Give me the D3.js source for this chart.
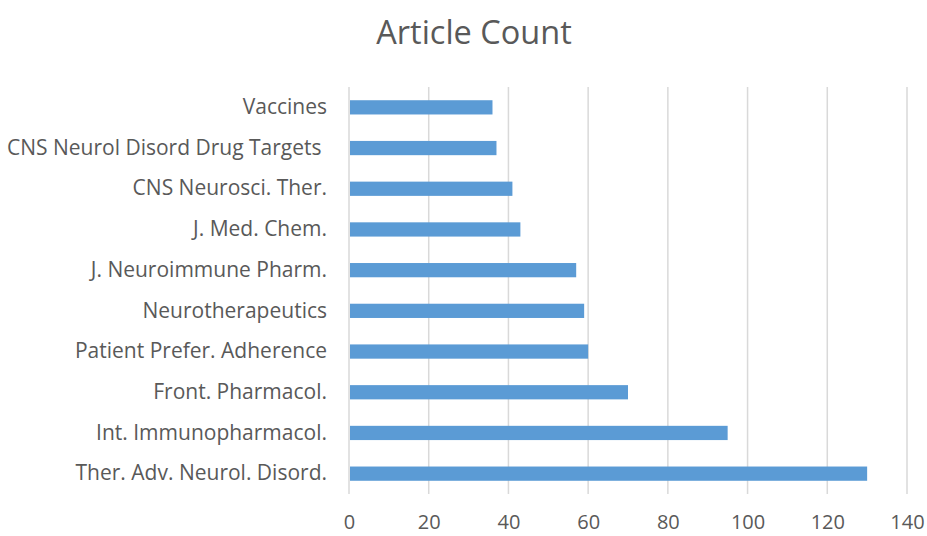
<!DOCTYPE html>
<html>
<head>
<meta charset="utf-8">
<script src="https://cdn.jsdelivr.net/npm/d3@7"></script>
<style>
  body { margin: 0; background: #fff; }
  text { font-family: "Open Sans", sans-serif; fill: #595959; }
</style>
</head>
<body>
<div id="chart"></div>
<script>
// Data (top to bottom as drawn)
const journals = [
    'Vaccines',
    'CNS Neurol Disord Drug Targets ',
    'CNS Neurosci. Ther.',
    'J. Med. Chem.',
    'J. Neuroimmune Pharm.',
    'Neurotherapeutics',
    'Patient Prefer. Adherence',
    'Front. Pharmacol.',
    'Int. Immunopharmacol.',
    'Ther. Adv. Neurol. Disord.'
];
const articleCounts = [36, 37, 41, 43, 57, 59, 60, 70, 95, 130];
const xTicks = [0, 20, 40, 60, 80, 100, 120, 140];

const W = 927, H = 536;
const margin = { top: 87, right: 20, bottom: 42, left: 349 };
const width = 907 - margin.left;
const height = H - margin.top - margin.bottom;

const svg = d3.select('#chart').append('svg')
    .attr('width', W)
    .attr('height', H);

const g = svg.append('g')
    .attr('transform', `translate(${margin.left},${margin.top})`);

const x = d3.scaleLinear()
    .domain([0, 140])
    .range([0, width]);

const y = d3.scaleBand()
    .domain(journals)
    .range([0, height])
    .paddingInner(0.65)
    .paddingOuter(0.325);

// gridlines
g.selectAll('.grid')
    .data(xTicks)
    .enter().append('line')
    .attr('x1', d => x(d))
    .attr('x2', d => x(d))
    .attr('y1', 0)
    .attr('y2', height)
    .attr('stroke', '#d9d9d9')
    .attr('stroke-width', 1.5);

// bars
g.selectAll('.bar')
    .data(journals)
    .enter().append('rect')
    .attr('class', 'bar')
    .attr('x', x(0) + 1)
    .attr('y', d => y(d))
    .attr('width', (d, i) => x(articleCounts[i]) - x(0) - 1)
    .attr('height', y.bandwidth())
    .attr('fill', '#5b9bd5');

// x axis labels
const xAxis = g.append('g')
    .attr('transform', `translate(0,${height})`)
    .call(d3.axisBottom(x).tickValues(xTicks).tickSize(0).tickPadding(21));
xAxis.select('.domain').remove();
xAxis.selectAll('text')
    .style('font-size', '20px')
    .attr('fill', '#595959');

// y axis labels
const yAxis = g.append('g')
    .call(d3.axisLeft(y).tickSize(0).tickPadding(22));
yAxis.select('.domain').remove();
yAxis.selectAll('text')
    .style('font-size', '21px')
    .style('white-space', 'pre')
    .attr('fill', '#595959');

// title
svg.append('text')
    .attr('x', 474)
    .attr('y', 44)
    .attr('text-anchor', 'middle')
    .style('font-size', '32.5px')
    .text('Article Count');
</script>
</body>
</html>
